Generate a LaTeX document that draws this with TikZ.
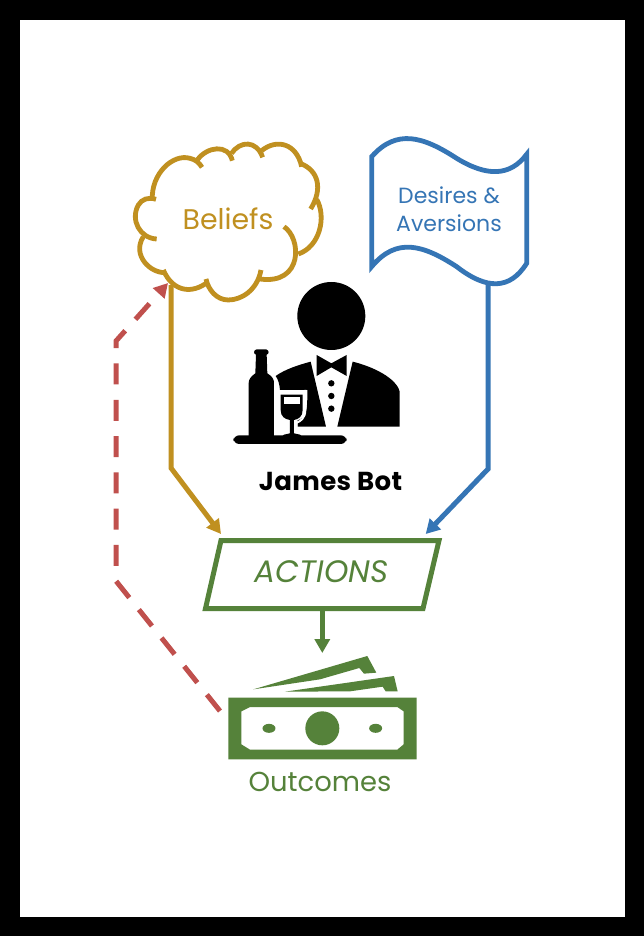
\documentclass[tikz,border=0pt]{standalone}
\usepackage{fontspec}
\setmainfont{Poppins}
\usetikzlibrary{arrows.meta}
\definecolor{gold}{HTML}{C09020}
\definecolor{blu}{HTML}{3575B5}
\definecolor{grn}{HTML}{55823A}
\definecolor{rd}{HTML}{C0504D}
\tikzset{
 lbl/.style={inner sep=0pt,align=center},
 conn/.style={line width=5pt,-{Triangle[length=14pt,width=15pt]},line join=miter},
}
\begin{document}
\begin{tikzpicture}[x=1pt,y=-1pt]
\useasboundingbox (0,0) rectangle (644,936);
\fill[black] (0,0) rectangle (644,936);
\fill[white] (20,20) rectangle (625,917);
% cloud
\begin{scope}[shift={(120,130)},x=0.3333pt,y=-0.3333pt,draw=gold,line width=4.8pt,line cap=butt]
\draw (97,212) .. controls (92,130) and (160,70) .. (210,85) .. controls (225,88) and (238,98) .. (246,112);
\draw (232,90) .. controls (260,50) and (325,40) .. (337,92);
\draw (335,70) .. controls (360,32) and (410,30) .. (428,82);
\draw (425,62) .. controls (470,25) and (530,40) .. (545,110);
\draw (540,100) .. controls (595,120) and (610,175) .. (572,237);
\draw (590,208) .. controls (620,260) and (600,350) .. (535,372);
\draw (492,290) .. controls (545,325) and (550,465) .. (420,447);
\draw (423,420) .. controls (412,480) and (365,510) .. (325,510) .. controls (290,510) and (265,480) .. (258,447);
\draw (262,457) .. controls (220,490) and (160,490) .. (130,420);
\draw (137,428) .. controls (90,430) and (35,375) .. (70,320);
\draw (110,327) .. controls (60,325) and (30,270) .. (55,225) .. controls (65,208) and (85,200) .. (108,208);
\end{scope}
\node[lbl,text=gold,font=\fontsize{28.4}{28.4}\selectfont] (beliefs) at (228,219) {Beliefs};
% flag
\begin{scope}[shift={(360,135)},x=0.3333pt,y=-0.3333pt]
\draw[blu,line width=4.8pt,line join=miter] (35,65) .. controls (110,-20) and (190,5) .. (290,70) .. controls (380,125) and (450,125) .. (500,58) -- (500,385) .. controls (450,465) and (380,465) .. (290,395) .. controls (190,330) and (110,305) .. (35,395) -- cycle;
\end{scope}
\node[lbl,text=blu,font=\fontsize{22}{28}\selectfont] (desires) at (449,209) {Desires \&\\Aversions};
% waiter
\begin{scope}[shift={(220,270)},x=0.3333pt,y=-0.3333pt]
\fill[black] (334,138) circle (34pt);
\fill[black] (290,255) -- (334,280) -- (380,255) -- (380,318) -- (334,292) -- (290,318) -- cycle;
\fill[black] (334,340) circle (3.2pt) (334,378) circle (3.2pt) (334,416) circle (3.2pt);
\fill[black] (272,275) -- (318,470) -- (232,470) -- (232,452) .. controls (262,440) and (262,420) .. (262,360) -- (180,360) .. controls (178,340) and (175,330) .. (167,318) .. controls (195,298) and (235,285) .. (272,275) -- cycle;
\fill[black] (398,275) -- (352,470) -- (539,470) -- (539,365) .. controls (530,325) and (460,290) .. (398,275) -- cycle;
\fill[black] (110,238) -- (138,238) .. controls (148,240) and (148,252) .. (140,254) -- (142,310) .. controls (158,320) and (162,328) .. (162,340) -- (162,498) -- (86,498) -- (86,340) .. controls (86,328) and (92,320) .. (106,310) -- (108,254) .. controls (100,252) and (100,240) .. (110,238) -- cycle;
\fill[black,rounded corners=6pt] (40,496) rectangle (380,522);
\fill[black] (182,374) -- (248,374) -- (248,420) .. controls (248,440) and (235,448) .. (222,450) -- (222,490) -- (240,494) -- (244,498) -- (188,498) -- (192,494) -- (210,490) -- (210,450) .. controls (195,448) and (182,440) .. (182,420) -- cycle;
\fill[white] (192,382) rectangle (240,402);
\draw[white,line width=2pt] (174,360) -- (174,420) .. controls (174,445) and (190,455) .. (202,458) -- (202,482);
\draw[white,line width=2pt] (256,360) -- (256,420) .. controls (256,445) and (240,455) .. (230,458) -- (230,482);
\draw[white,line width=2pt] (174,362) -- (256,362);
\end{scope}
\node[lbl,text=black,font=\fontsize{26}{26}\selectfont\bfseries\addfontfeature{LetterSpace=1.5}] (bot) at (330.5,481) {James Bot};
% actions
\draw[grn,line width=5pt] (221,540.5) -- (439,540.5) -- (423,608.5) -- (205.5,608.5) -- cycle;
\node[lbl,text=grn,font=\fontsize{31}{31}\selectfont\itshape] (actions) at (321.5,572) {ACTIONS};
% money
\begin{scope}[shift={(210,640)},x=0.3333pt,y=-0.3333pt]
\fill[grn,even odd rule] (55,173) rectangle (620,358)
 (120,201) -- (562,201) -- (581,214) -- (581,313) -- (562,329) -- (120,329) -- (94,313) -- (94,214) -- cycle;
\fill[grn] (337,265) circle (17pt);
\fill[grn] (177,265) ellipse (6.5pt and 4.5pt) (497,265) ellipse (6.5pt and 4.5pt);
\fill[grn] (130,148) -- (472,48) -- (499,98) -- (462,101) -- (448,84) -- (330,118) -- cycle;
\fill[grn] (225,155) -- (552,108) -- (563,154) -- (527,154) -- (518,140) -- (420,154) -- cycle;
\end{scope}
\node[lbl,text=grn,font=\fontsize{27.4}{27.4}\selectfont] (outcomes) at (320,782) {Outcomes};
% connector ends
\coordinate (bs) at (171,285); \coordinate (bm) at (171,468); \coordinate (be) at (221,534);
\coordinate (ds) at (488,282); \coordinate (dm) at (488,469); \coordinate (de) at (425.7,534);
\coordinate (as) at (322.3,608); \coordinate (ae) at (322.3,653);
\coordinate (os) at (220,711); \coordinate (o1) at (116,581); \coordinate (o2) at (116,341); \coordinate (oe) at (168,283);
\draw[conn,gold] (bs) -- (bm) -- (be);
\draw[conn,blu] (ds) -- (dm) -- (de);
\draw[conn,grn] (as) -- (ae);
\draw[conn,rd,dash pattern=on 21pt off 15.3pt] (os) -- (o1) -- (o2) -- (oe);
\end{tikzpicture}
\end{document}
